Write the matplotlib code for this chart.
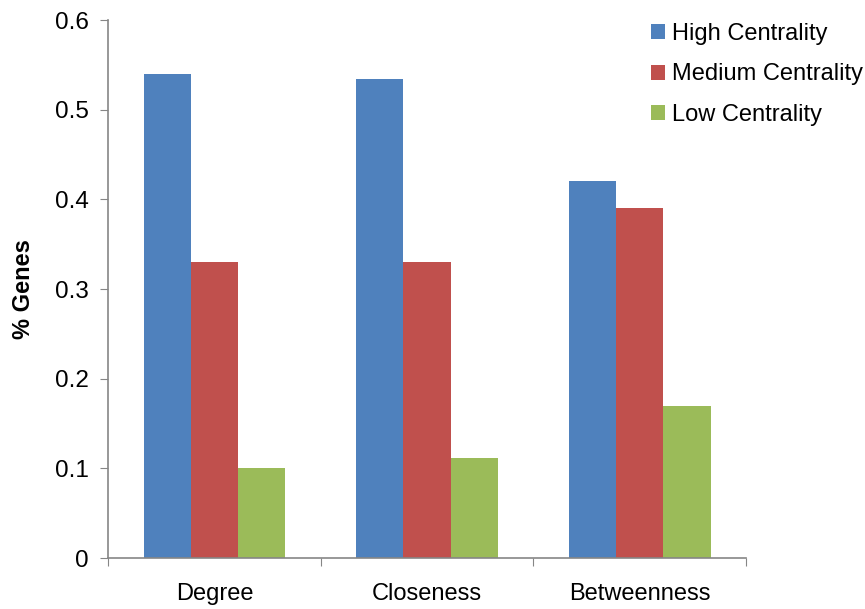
import matplotlib.pyplot as plt
import numpy as np

plt.rcParams['font.family'] = ['Liberation Sans', 'DejaVu Sans']

categories = ['Degree', 'Closeness', 'Betweenness']
series = ['High Centrality', 'Medium Centrality', 'Low Centrality']
high = [0.54, 0.534, 0.42]
medium = [0.33, 0.33, 0.39]
low = [0.10, 0.112, 0.17]
colors = ['#4F81BD', '#C0504D', '#9BBB59']

fig = plt.figure(figsize=(8.65, 6.09), dpi=100)
ax = fig.add_axes([0.1249, 0.0837, 0.7376, 0.8833])

x = np.arange(len(categories))
w = 0.222
for i, (vals, lab) in enumerate(zip([high, medium, low], series)):
    ax.bar(x + (i - 1) * w, vals, w, color=colors[i], label=lab,
           edgecolor='none')

ax.set_xlim(-0.5, 2.5)
ax.set_ylim(0, 0.6)
ax.set_yticks([0, 0.1, 0.2, 0.3, 0.4, 0.5, 0.6])
ax.set_yticklabels(['0', '0.1', '0.2', '0.3', '0.4', '0.5', '0.6'])
ax.set_xticks([-0.5, 0.5, 1.5, 2.5])
ax.set_xticklabels([])
ax.set_xticks(x, minor=True)
ax.set_xticklabels(categories, minor=True)
ax.tick_params(axis='x', which='minor', length=0, pad=18, labelsize=17)
ax.tick_params(axis='x', which='major', length=6, color='#868686')
ax.tick_params(axis='y', length=6, color='#868686', labelsize=17.5, pad=8)

for s in ['top', 'right']:
    ax.spines[s].set_visible(False)
for s in ['left', 'bottom']:
    ax.spines[s].set_color('#868686')
    ax.spines[s].set_linewidth(1.2)

fig.text(0.027, 0.525, '% Genes', rotation=90, fontsize=17, fontweight='bold',
         ha='center', va='center')

ax.legend(loc='upper left', bbox_to_anchor=(0.728, 0.997),
          bbox_transform=fig.transFigure, frameon=False, fontsize=17,
          handlelength=0.6, handleheight=0.6, handletextpad=0.3,
          labelspacing=0.78)

fig.savefig('out.png', dpi=100)
